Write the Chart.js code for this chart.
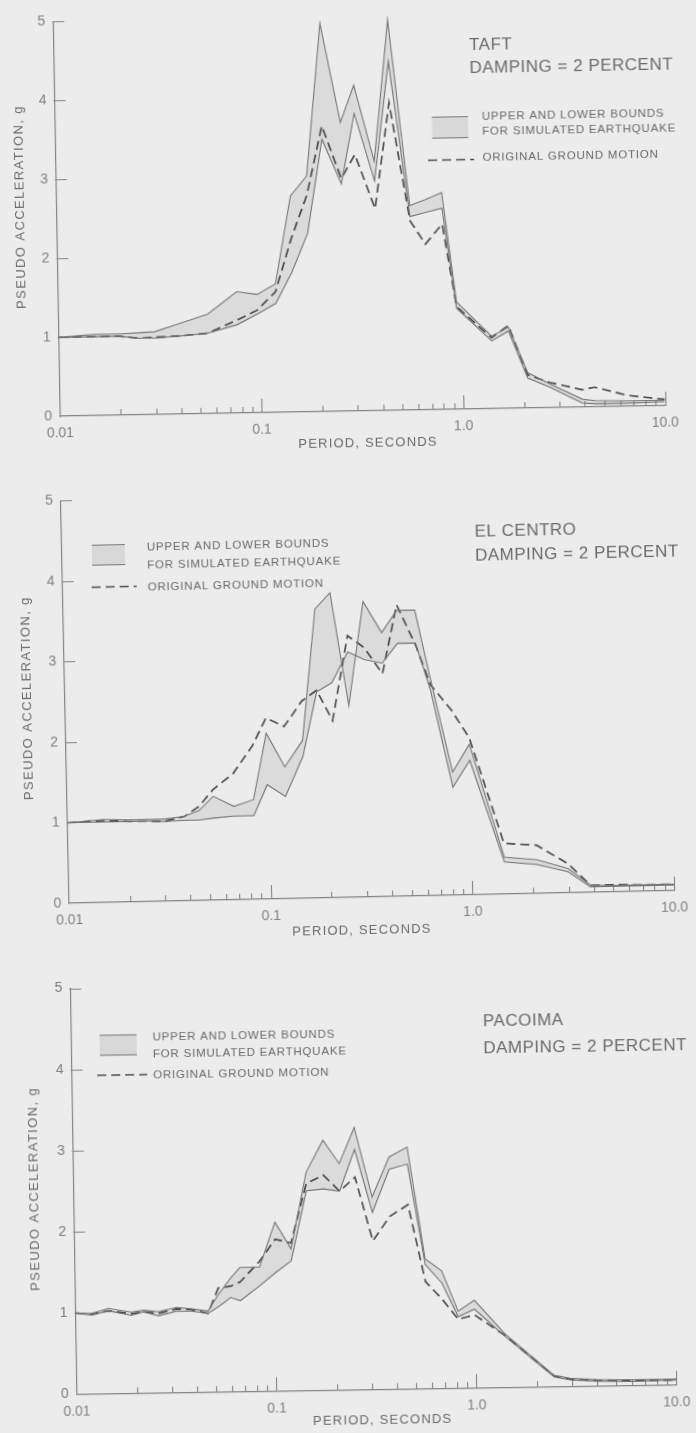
<!DOCTYPE html>
<html>
<head>
<meta charset="utf-8">
<title>Pseudo acceleration spectra</title>
<script src="https://cdn.jsdelivr.net/npm/chart.js@4.4.1/dist/chart.umd.min.js"></script>
<style>
  html, body { margin: 0; padding: 0; background: #ececec; overflow: hidden; }
  #page { position: relative; width: 696px; height: 1433px; overflow: hidden; background: #ececec; }
  canvas { position: absolute; left: 0; }
</style>
</head>
<body>
<div id="page">
  <canvas id="taft" width="696" height="478" style="top:0;width:696px;height:478px;transform-origin:359px 210px;transform:rotate(-1deg)"></canvas>
  <canvas id="elcentro" width="696" height="478" style="top:478px;width:696px;height:478px;transform-origin:367.5px 216.5px;transform:rotate(-1.2deg)"></canvas>
  <canvas id="pacoima" width="696" height="477" style="top:956px;width:696px;height:477px;transform-origin:376px 230.5px;transform:rotate(-0.9deg)"></canvas>
</div>
<script>
// ---- spectra (period in seconds, pseudo acceleration in g) ----
const taftPeriods  = [0.01, 0.015, 0.02, 0.025, 0.03, 0.04, 0.055, 0.077, 0.097, 0.12, 0.145, 0.175, 0.21, 0.26, 0.305, 0.38, 0.455, 0.565, 0.67, 0.815, 0.945, 1.4, 1.7, 2.1, 2.7, 3.9, 4.5, 6.5, 10];
const taftUpper    = [1.0, 1.03, 1.03, 1.04, 1.05, 1.15, 1.26, 1.54, 1.5, 1.63, 2.74, 2.99, 4.92, 3.66, 4.13, 3.16, 4.95, 2.59, 2.66, 2.75, 1.36, 0.92, 1.03, 0.45, 0.3, 0.1, 0.08, 0.07, 0.07];
const taftLower    = [1.0, 1.0, 1.0, 0.97, 0.97, 0.99, 1.02, 1.12, 1.25, 1.38, 1.77, 2.26, 3.45, 2.88, 3.77, 2.91, 4.42, 2.45, 2.5, 2.55, 1.28, 0.86, 0.98, 0.38, 0.26, 0.05, 0.04, 0.04, 0.05];
const taftOriginal = [1.0, 1.0, 1.0, 0.97, 0.98, 0.99, 1.02, 1.18, 1.3, 1.53, 2.2, 2.75, 3.62, 2.95, 3.25, 2.56, 3.9, 2.4, 2.1, 2.35, 1.3, 0.9, 1.05, 0.42, 0.32, 0.22, 0.25, 0.14, 0.08];

const elCentroPeriods  = [0.01, 0.015, 0.02, 0.025, 0.03, 0.038, 0.045, 0.053, 0.067, 0.084, 0.0985, 0.121, 0.149, 0.177, 0.211, 0.255, 0.307, 0.377, 0.45, 0.553, 0.65, 0.82, 1.0, 1.45, 2.1, 3.0, 3.85, 5, 7, 10];
const elCentroUpper    = [1.0, 1.03, 1.02, 1.02, 1.02, 1.05, 1.12, 1.29, 1.16, 1.24, 2.06, 1.64, 1.96, 3.59, 3.79, 2.38, 3.67, 3.28, 3.55, 3.55, 2.7, 1.53, 1.87, 0.46, 0.42, 0.3, 0.09, 0.08, 0.08, 0.08];
const elCentroLower    = [1.0, 1.0, 1.0, 1.0, 0.99, 1.0, 1.0, 1.02, 1.04, 1.04, 1.42, 1.27, 1.76, 2.56, 2.67, 3.05, 2.95, 2.9, 3.14, 3.14, 2.55, 1.34, 1.67, 0.4, 0.36, 0.26, 0.07, 0.07, 0.07, 0.07];
const elCentroOriginal = [1.0, 1.02, 1.0, 1.0, 0.99, 1.05, 1.17, 1.375, 1.57, 1.91, 2.25, 2.14, 2.45, 2.58, 2.2, 3.25, 3.1, 2.77, 3.62, 3.12, 2.62, 2.3, 1.95, 0.63, 0.6, 0.36, 0.09, 0.09, 0.08, 0.08];

const pacoimaPeriods  = [0.01, 0.012, 0.0146, 0.019, 0.022, 0.026, 0.032, 0.038, 0.046, 0.052, 0.06, 0.067, 0.084, 0.101, 0.121, 0.146, 0.178, 0.214, 0.256, 0.311, 0.38, 0.469, 0.566, 0.683, 0.82, 0.99, 1.4, 2.45, 2.95, 4, 6, 10];
const pacoimaUpper    = [1.0, 0.99, 1.05, 1.0, 1.02, 1.0, 1.05, 1.03, 1.0, 1.2, 1.4, 1.53, 1.53, 2.08, 1.75, 2.69, 3.08, 2.79, 3.23, 2.37, 2.86, 2.98, 1.6, 1.45, 0.95, 1.08, 0.66, 0.14, 0.1, 0.08, 0.07, 0.07];
const pacoimaLower    = [1.0, 0.97, 1.02, 0.96, 1.0, 0.95, 1.0, 1.0, 0.97, 1.05, 1.16, 1.12, 1.3, 1.46, 1.6, 2.46, 2.48, 2.45, 2.96, 2.18, 2.71, 2.77, 1.53, 1.3, 0.88, 0.97, 0.63, 0.12, 0.08, 0.06, 0.05, 0.06];
const pacoimaOriginal = [1.0, 0.98, 1.02, 0.98, 1.0, 0.98, 1.03, 1.02, 0.97, 1.28, 1.3, 1.35, 1.6, 1.87, 1.82, 2.55, 2.65, 2.45, 2.62, 1.83, 2.13, 2.27, 1.32, 1.1, 0.85, 0.9, 0.64, 0.13, 0.09, 0.07, 0.06, 0.06];

// ---- axis ticks and labels ----
const periodTickValues = [0.01, 0.1, 1, 10];
const periodTickLabels = ['0.01', '0.1', '1.0', '10.0'];
const accelTickValues  = [0, 1, 2, 3, 4, 5];
const boundsLabel   = ['UPPER AND LOWER BOUNDS', 'FOR SIMULATED EARTHQUAKE'];
const originalLabel = 'ORIGINAL GROUND MOTION';
const dampingLabel  = 'DAMPING = 2 PERCENT';
const xAxisTitle    = 'PERIOD, SECONDS';
const yAxisTitle    = 'PSEUDO ACCELERATION, g';

// ---- styling ----
const INK_AXIS  = '#858585';
const INK_TICK  = '#808080';
const INK_TEXT  = '#6a6a6a';
const INK_BOUND = '#777777';
const INK_ORIG  = '#4e4e4e';
const BAND_FILL = 'rgba(0,0,0,0.07)';
const FONT = "'Liberation Sans', Arial, sans-serif";
Chart.defaults.font.family = FONT;

function drawText(ctx, str, x, y, size, spacing, color, align) {
  ctx.font = size + 'px ' + FONT;
  ctx.letterSpacing = spacing + 'px';
  ctx.fillStyle = color;
  ctx.textAlign = align || 'left';
  ctx.textBaseline = 'middle';
  ctx.fillText(str, x, y);
}

// inward tick marks, titles and the key for each panel
const panelDecor = {
  id: 'panelDecor',
  beforeDatasetsDraw(chart) {
    const { ctx, chartArea: a, scales: { x, y } } = chart;
    ctx.save();
    ctx.strokeStyle = INK_AXIS;
    ctx.lineWidth = 1.1;
    ctx.beginPath();
    accelTickValues.forEach(v => {
      if (v === 0) return;
      const py = Math.round(y.getPixelForValue(v)) + 0.5;
      ctx.moveTo(a.left - 1, py);
      ctx.lineTo(a.left + 11, py);
    });
    for (let e = -2; e <= 1; e++) {
      for (let k = 1; k <= 9; k++) {
        const v = k * Math.pow(10, e);
        if (v <= 0.01 + 1e-9 || v > 10 + 1e-9) continue;
        const px = Math.round(x.getPixelForValue(v)) + 0.5;
        const len = (k === 1) ? 14 : 6;
        ctx.moveTo(px, a.bottom);
        ctx.lineTo(px, a.bottom - len);
      }
    }
    ctx.stroke();
    ctx.restore();
  },
  afterDraw(chart, args, o) {
    const ctx = chart.ctx;
    ctx.save();
    // station name and damping
    drawText(ctx, o.station, o.titleX, o.titleY[0], 17, 0.5, INK_TEXT);
    drawText(ctx, dampingLabel, o.titleX, o.titleY[1], 17, 0.5, INK_TEXT);
    // key: band swatch
    const s = o.swatch;
    ctx.fillStyle = '#d8d8d8';
    ctx.fillRect(s.x, s.y, s.w, s.h);
    ctx.strokeStyle = INK_BOUND;
    ctx.lineWidth = 1.1;
    ctx.beginPath();
    ctx.moveTo(s.x, s.y); ctx.lineTo(s.x + s.w, s.y);
    ctx.moveTo(s.x, s.y + s.h); ctx.lineTo(s.x + s.w, s.y + s.h);
    ctx.stroke();
    // key: dashed line
    ctx.strokeStyle = INK_ORIG;
    ctx.lineWidth = 1.6;
    ctx.setLineDash([9, 5]);
    ctx.beginPath();
    ctx.moveTo(o.dash[0], o.dash[2]); ctx.lineTo(o.dash[1], o.dash[2]);
    ctx.stroke();
    ctx.setLineDash([]);
    drawText(ctx, boundsLabel[0], o.keyX, o.keyY[0], 11.5, 0.8, INK_TEXT);
    drawText(ctx, boundsLabel[1], o.keyX, o.keyY[1], 11.5, 0.8, INK_TEXT);
    drawText(ctx, originalLabel, o.keyX, o.keyY[2], 11.5, 0.8, INK_TEXT);
    // axis titles
    drawText(ctx, xAxisTitle, o.xTitle[0], o.xTitle[1], 13, 1.2, INK_TEXT, 'center');
    ctx.translate(o.yTitle[0], o.yTitle[1]);
    ctx.rotate(-Math.PI / 2);
    drawText(ctx, yAxisTitle, 0, 0, 13, 1.4, INK_TEXT, 'center');
    ctx.restore();
  }
};

function spectrumDatasets(periods, upper, lower, original) {
  const pts = vals => periods.map((p, i) => ({ x: p, y: vals[i] }));
  return [
    { data: pts(upper), borderColor: INK_BOUND, borderWidth: 1.1, backgroundColor: BAND_FILL, fill: '+1', pointRadius: 0, tension: 0 },
    { data: pts(lower), borderColor: INK_BOUND, borderWidth: 1.1, fill: false, pointRadius: 0, tension: 0 },
    { data: pts(original), borderColor: INK_ORIG, borderWidth: 1.7, borderDash: [9, 5], fill: false, pointRadius: 0, tension: 0 }
  ];
}

function makePanel(id, height, area, datasets, decor) {
  const axisLine = { display: true, color: INK_AXIS, width: 1.2 };
  const noGrid = { display: true, drawOnChartArea: false, drawTicks: false };
  return new Chart(document.getElementById(id), {
    type: 'line',
    data: { datasets },
    options: {
      responsive: false,
      animation: false,
      devicePixelRatio: 1,
      layout: { padding: { left: 0, top: area.top, right: 696 - area.right, bottom: 0 } },
      plugins: { legend: { display: false }, tooltip: { enabled: false }, panelDecor: decor },
      scales: {
        x: {
          type: 'logarithmic', min: 0.01, max: 10,
          afterBuildTicks: s => { s.ticks = periodTickValues.map(v => ({ value: v })); },
          afterFit: s => { s.height = height - area.bottom; },
          grid: noGrid, border: axisLine,
          ticks: {
            autoSkip: false, maxRotation: 0, padding: 9, color: INK_TICK, font: { size: 14 },
            callback: v => { const i = periodTickValues.indexOf(v); return i < 0 ? '' : periodTickLabels[i]; }
          }
        },
        y: {
          type: 'linear', min: 0, max: 5,
          afterBuildTicks: s => { s.ticks = accelTickValues.map(v => ({ value: v })); },
          afterFit: s => { s.width = area.left; },
          grid: noGrid, border: axisLine,
          ticks: { padding: 8, color: INK_TICK, font: { size: 14 }, callback: v => String(v) }
        }
      }
    },
    plugins: [panelDecor]
  });
}

makePanel('taft', 478, { left: 56.5, right: 661.5, top: 9, bottom: 411 },
  spectrumDatasets(taftPeriods, taftUpper, taftLower, taftOriginal),
  { station: 'TAFT', titleX: 472, titleY: [47, 70],
    swatch: { x: 433.5, y: 118.5, w: 36, h: 21 }, dash: [429, 475, 161.5],
    keyX: 483.5, keyY: [119, 133.5, 159.5],
    xTitle: [364, 443], yTitle: [20, 201] });

makePanel('elcentro', 478, { left: 65, right: 670, top: 14, bottom: 419 },
  spectrumDatasets(elCentroPeriods, elCentroUpper, elCentroLower, elCentroOriginal),
  { station: 'EL CENTRO', titleX: 478, titleY: [56, 80],
    swatch: { x: 95, y: 61.5, w: 33, h: 20 }, dash: [94, 139, 103.5],
    keyX: 150, keyY: [64.5, 82.5, 104.5],
    xTitle: [357, 452], yTitle: [27, 213] });

makePanel('pacoima', 477, { left: 73.5, right: 678.5, top: 27.5, bottom: 433.5 },
  spectrumDatasets(pacoimaPeriods, pacoimaUpper, pacoimaLower, pacoimaOriginal),
  { station: 'PACOIMA', titleX: 485.5, titleY: [67.5, 94],
    swatch: { x: 102, y: 75, w: 37, h: 20 }, dash: [99, 149, 115],
    keyX: 155, keyY: [77.5, 94.5, 115.5],
    xTitle: [379, 464], yTitle: [34, 227.5] });
</script>
</body>
</html>
